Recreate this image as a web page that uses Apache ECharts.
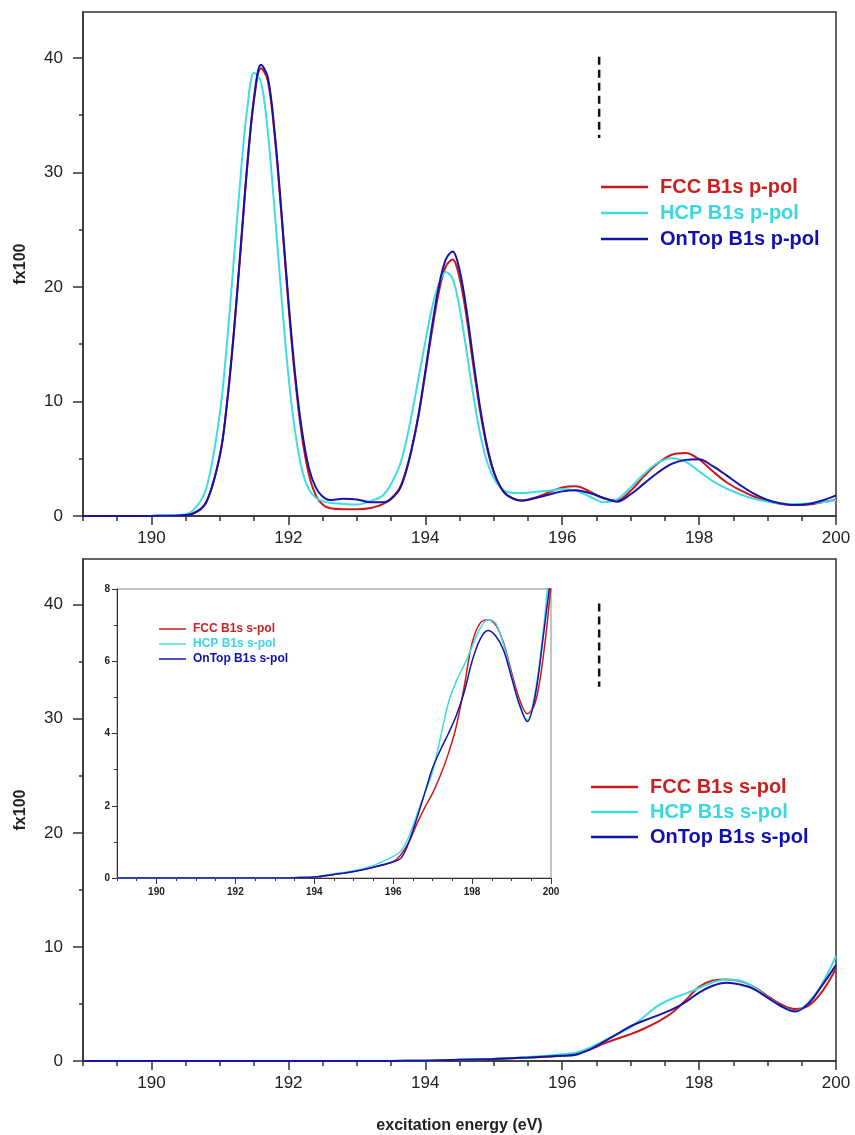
<!DOCTYPE html>
<html>
<head>
<meta charset="utf-8">
<script src="https://cdn.jsdelivr.net/npm/echarts@6/dist/echarts.min.js"></script>
<style>
html,body{margin:0;padding:0;background:#fff;}
#chart{width:855px;height:1135px;}
</style>
</head>
<body>
<div id="chart"></div>
<script>
// ---------- data: p-pol (top panel) ----------
const xTop = [189, 189.5, 190, 190.4, 190.6, 190.8,
  191.0, 191.1, 191.2, 191.3, 191.4, 191.5, 191.6, 191.7, 191.8, 191.9, 192.0, 192.1, 192.2, 192.3, 192.4, 192.5, 192.6,
  192.8, 193.0, 193.2, 193.4,
  193.6, 193.7, 193.8, 193.9, 194.0, 194.1, 194.2, 194.3, 194.4, 194.5, 194.6, 194.7, 194.8, 194.9, 195.0, 195.1, 195.2,
  195.4, 195.6, 195.8, 196.0, 196.2, 196.4, 196.6, 196.8, 197.0, 197.2, 197.4, 197.6, 197.8, 198.0, 198.2, 198.4, 198.6, 198.8, 199.0, 199.2, 199.4, 199.6, 199.8, 200.0];
const fccP = [0, 0, 0.01, 0.05, 0.2, 1.2,
  5.3, 9.6, 15.7, 23.0, 30.5, 36.4, 39.1, 38.0, 33.2, 26.2, 18.5, 11.9, 6.9, 3.6, 1.8, 1.0, 0.7,
  0.6, 0.6, 0.7, 1.1,
  2.2, 3.6, 5.8, 8.7, 12.4, 16.2, 19.6, 21.8, 22.4, 20.8, 17.5, 13.2, 9.2, 6.0, 3.8, 2.5, 1.8,
  1.35, 1.6, 2.05, 2.5, 2.6, 2.15, 1.55, 1.35, 2.2, 3.5, 4.6, 5.35, 5.5, 4.95, 3.9, 2.95, 2.25, 1.7, 1.3, 1.05, 0.95, 1.0, 1.2, 1.45];
const hcpP = [0, 0, 0.02, 0.08, 0.45, 2.4,
  9.0, 14.9, 22.1, 29.5, 35.6, 38.7, 37.9, 33.5, 26.6, 19.1, 12.3, 7.3, 4.0, 2.3, 1.6, 1.3, 1.15,
  1.05, 1.0, 1.3, 1.9,
  4.0, 6.0, 8.8, 12.0, 15.2, 18.2, 20.3, 21.3, 20.7, 18.2, 14.5, 10.6, 7.2, 4.8, 3.3, 2.5, 2.1,
  2.0, 2.1, 2.2, 2.35, 2.2, 1.7, 1.2, 1.45, 2.5, 3.7, 4.65, 5.05, 4.75, 3.9, 3.05, 2.4, 1.9, 1.5, 1.25, 1.1, 1.05, 1.1, 1.2, 1.4];
const ontopP = [0, 0, 0.01, 0.05, 0.2, 1.2,
  5.3, 9.7, 15.8, 23.2, 30.7, 36.6, 39.4, 38.3, 33.5, 26.5, 18.9, 12.3, 7.4, 4.2, 2.5, 1.7, 1.4,
  1.5, 1.45, 1.2, 1.2,
  2.1, 3.5, 5.8, 8.8, 12.6, 16.6, 20.1, 22.4, 23.1, 21.5, 18.1, 13.7, 9.5, 6.2, 3.9, 2.5, 1.8,
  1.35, 1.55, 1.85, 2.15, 2.25, 2.0, 1.6, 1.25, 1.9, 2.85, 3.8, 4.55, 4.9, 4.95, 4.35, 3.55, 2.7, 1.95, 1.4, 1.1, 0.95, 1.05, 1.35, 1.8];

// ---------- data: s-pol (bottom panel and inset) ----------
const xBot = [189, 190, 191, 192, 193, 193.5, 194, 194.5, 195, 195.5, 196, 196.2, 196.4, 196.6, 196.8, 197.0, 197.2, 197.4, 197.6, 197.8, 198.0, 198.2, 198.4, 198.6, 198.8, 199.0, 199.2, 199.4, 199.6, 199.8, 200.0];
const fccS = [0, 0, 0, 0, 0, 0.01, 0.02, 0.1, 0.18, 0.3, 0.45, 0.65, 1.0, 1.5, 1.95, 2.35, 2.85, 3.45, 4.2, 5.3, 6.5, 7.05, 7.15, 7.0, 6.5, 5.7, 4.95, 4.55, 4.85, 6.1, 8.1];
const hcpS = [0, 0, 0, 0, 0, 0.01, 0.03, 0.12, 0.2, 0.35, 0.6, 0.75, 1.15, 1.75, 2.35, 2.95, 3.9, 4.85, 5.45, 5.9, 6.4, 6.9, 7.15, 7.05, 6.45, 5.6, 4.8, 4.37, 5.15, 6.8, 9.2];
const ontopS = [0, 0, 0, 0, 0, 0.01, 0.03, 0.1, 0.18, 0.3, 0.45, 0.55, 1.0, 1.65, 2.35, 3.05, 3.55, 4.0, 4.5, 5.15, 6.0, 6.6, 6.85, 6.7, 6.3, 5.55, 4.8, 4.33, 5.05, 6.65, 8.4];

// ---------- dashed marker lines ----------
const dashTop = [[196.54, 40.1], [196.54, 33.0]];
const dashBot = [[196.54, 40.1], [196.54, 32.8]];

// ---------- ticks / labels ----------
const xMajor = [190, 192, 194, 196, 198, 200];
const xMinor = [189, 189.5, 190.5, 191, 191.5, 192.5, 193, 193.5, 194.5, 195, 195.5, 196.5, 197, 197.5, 198.5, 199, 199.5];
const yMajor = [0, 10, 20, 30, 40];
const yMinor = [5, 15, 25, 35];
const yMajorIn = [0, 2, 4, 6, 8];
const yMinorIn = [1, 3, 5, 7];

const namesP = ['FCC B1s p-pol', 'HCP B1s p-pol', 'OnTop B1s p-pol'];
const namesS = ['FCC B1s s-pol', 'HCP B1s s-pol', 'OnTop B1s s-pol'];
const colors = ['#cc1a1a', '#3fdde2', '#1414a8'];
const textColors = ['#cc2020', '#38d8e0', '#1010b0'];

const FONT = "'Liberation Sans', Arial, sans-serif";
const AX = '#333';

function zip(xs, ys) { return xs.map((x, i) => [x, ys[i]]); }

function xAxisPair(g, o) {
  return [{
    type: 'value', gridIndex: g, min: 189, max: 200, position: 'bottom',
    axisLine: { show: true, onZero: false, lineStyle: { color: AX, width: o.lw } },
    axisTick: { show: true, customValues: xMajor, length: o.major, lineStyle: { color: AX, width: o.lw } },
    axisLabel: { show: true, customValues: xMajor, margin: o.margin, fontSize: o.fs, fontWeight: o.fw, color: '#222', fontFamily: FONT },
    splitLine: { show: false },
    name: o.name || '', nameLocation: 'middle', nameGap: o.nameGap || 0,
    nameTextStyle: { fontSize: 16, fontWeight: 'bold', color: '#222', fontFamily: FONT }
  }, {
    type: 'value', gridIndex: g, min: 189, max: 200, position: 'bottom',
    axisLine: { show: false, onZero: false },
    axisTick: { show: true, customValues: xMinor, length: o.minor, lineStyle: { color: AX, width: o.lw } },
    axisLabel: { show: false },
    splitLine: { show: false }
  }];
}
function yAxisPair(g, o) {
  return [{
    type: 'value', gridIndex: g, min: 0, max: o.max, position: 'left',
    axisLine: { show: true, onZero: false, lineStyle: { color: AX, width: o.lw } },
    axisTick: { show: true, customValues: o.majorVals, length: o.major, lineStyle: { color: AX, width: o.lw } },
    axisLabel: { show: true, customValues: o.majorVals, margin: o.margin, fontSize: o.fs, fontWeight: o.fw, color: '#222', fontFamily: FONT },
    splitLine: { show: false },
    name: o.name || '', nameLocation: 'middle', nameGap: o.nameGap || 0,
    nameTextStyle: { fontSize: 16, fontWeight: 'bold', color: '#222', fontFamily: FONT }
  }, {
    type: 'value', gridIndex: g, min: 0, max: o.max, position: 'left',
    axisLine: { show: false, onZero: false },
    axisTick: { show: true, customValues: o.minorVals, length: o.minor, lineStyle: { color: AX, width: o.lw } },
    axisLabel: { show: false },
    splitLine: { show: false }
  }];
}

const mainX = { lw: 1.5, major: 9, minor: 5, margin: 14, fs: 17, fw: 'normal' };
const mainY = { lw: 1.5, major: 10, minor: 4, margin: 20, fs: 17, fw: 'normal', max: 44, majorVals: yMajor, minorVals: yMinor, name: 'fx100', nameGap: 54 };
const inX = { lw: 1, major: 6, minor: 3, margin: 9, fs: 10, fw: 'bold' };
const inY = { lw: 1, major: 5, minor: 3, margin: 7, fs: 10, fw: 'bold', max: 8, majorVals: yMajorIn, minorVals: yMinorIn };

const xAxes = [].concat(
  xAxisPair(0, mainX),
  xAxisPair(1, Object.assign({}, mainX, { name: 'excitation energy (eV)', nameGap: 57 })),
  xAxisPair(2, inX)
);
const yAxes = [].concat(
  yAxisPair(0, mainY),
  yAxisPair(1, mainY),
  yAxisPair(2, inY)
);

function lineSeries(name, data, color, xi, yi, w) {
  return {
    type: 'line', name: name, data: data, xAxisIndex: xi, yAxisIndex: yi,
    showSymbol: false, symbol: 'none', smooth: 0.35,
    lineStyle: { color: color, width: w }, itemStyle: { color: color },
    silent: true, z: 3
  };
}
function dashSeries(data, xi, yi) {
  return {
    type: 'line', data: data, xAxisIndex: xi, yAxisIndex: yi, showSymbol: false, symbol: 'none',
    lineStyle: { color: '#111', width: 2.5, type: [8, 5] }, silent: true, z: 4
  };
}

const series = [
  lineSeries(namesP[0], zip(xTop, fccP), colors[0], 0, 0, 2),
  lineSeries(namesP[1], zip(xTop, hcpP), colors[1], 0, 0, 2),
  lineSeries(namesP[2], zip(xTop, ontopP), colors[2], 0, 0, 2),
  dashSeries(dashTop, 0, 0),
  lineSeries(namesS[0], zip(xBot, fccS), colors[0], 2, 2, 2),
  lineSeries(namesS[1], zip(xBot, hcpS), colors[1], 2, 2, 2),
  lineSeries(namesS[2], zip(xBot, ontopS), colors[2], 2, 2, 2),
  dashSeries(dashBot, 2, 2),
  lineSeries(namesS[0], zip(xBot, fccS), colors[0], 4, 4, 1.5),
  lineSeries(namesS[1], zip(xBot, hcpS), colors[1], 4, 4, 1.5),
  lineSeries(namesS[2], zip(xBot, ontopS), colors[2], 4, 4, 1.5)
];

function legendOf(names, o) {
  return {
    orient: 'vertical', left: o.left, top: o.top, padding: 0,
    itemWidth: o.iw, itemHeight: o.ih, itemGap: o.gap, icon: 'rect', selectedMode: false,
    textStyle: { fontSize: o.fs, fontWeight: 'bold', fontFamily: FONT, padding: [0, 0, 0, o.pad] },
    data: names.map((n, i) => ({ name: n, itemStyle: { color: colors[i] }, textStyle: { color: textColors[i] } }))
  };
}

const option = {
  animation: false,
  backgroundColor: '#fff',
  grid: [
    { left: 83, top: 12, width: 753, height: 504, show: true, borderColor: AX, borderWidth: 1.5, backgroundColor: 'transparent' },
    { left: 83, top: 559, width: 753, height: 502, show: true, borderColor: AX, borderWidth: 1.5, backgroundColor: 'transparent' },
    { left: 117, top: 589, width: 434, height: 289, show: true, borderColor: '#888', borderWidth: 1, backgroundColor: 'transparent' }
  ],
  xAxis: xAxes,
  yAxis: yAxes,
  legend: [
    legendOf(namesP, { left: 601, top: 177, iw: 47, ih: 2.5, gap: 6, fs: 20, pad: 7 }),
    legendOf(namesS, { left: 591, top: 777, iw: 47, ih: 2.5, gap: 5, fs: 20, pad: 7 }),
    legendOf(namesS, { left: 159, top: 623, iw: 27, ih: 1.5, gap: 3, fs: 12, pad: 2 })
  ],
  series: series
};

const chart = echarts.init(document.getElementById('chart'), null, { renderer: 'canvas' });
chart.setOption(option);
</script>
</body>
</html>
